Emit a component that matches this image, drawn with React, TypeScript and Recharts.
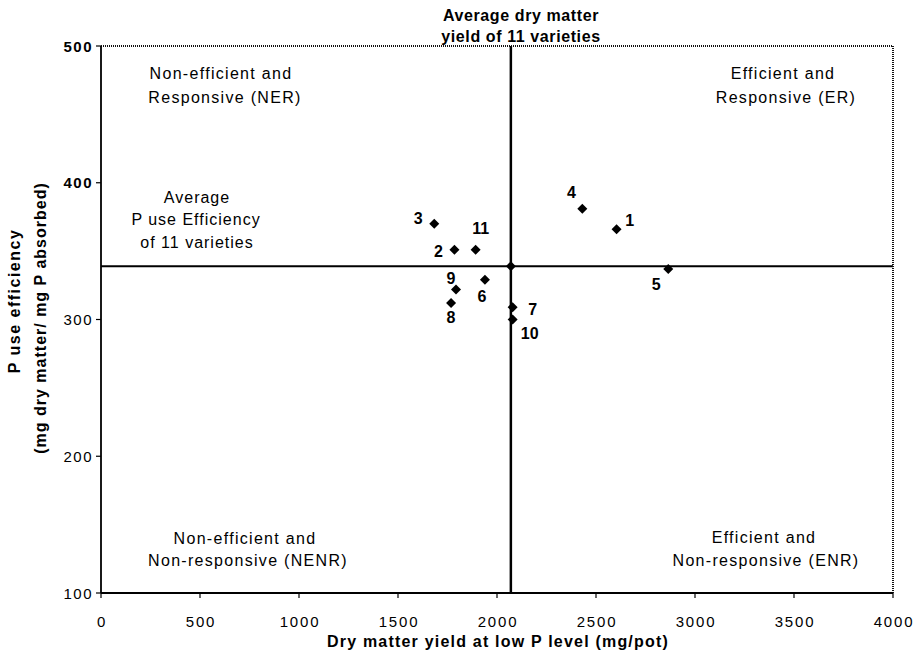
import React from 'react';
import { ScatterChart, Scatter, XAxis, YAxis, ReferenceLine, Customized } from 'recharts';

// ---- Data ----
const varieties = ['1', '2', '3', '4', '5', '6', '7', '8', '9', '10', '11'];
const dryMatterYield = [2604, 1785, 1683, 2431, 2865, 1939, 2079, 1768, 1793, 2079, 1892];
const pUseEfficiency = [366, 351, 370, 381, 337, 329, 309, 312, 322, 300, 351];
const averageYield = 2070;
const averageEfficiency = 339;
const xTicks = [0, 500, 1000, 1500, 2000, 2500, 3000, 3500, 4000];
const yTicks = [100, 200, 300, 400, 500];

const points = varieties.map((name, i) => ({ name, x: dryMatterYield[i], y: pUseEfficiency[i] }));
const averagePoint = [{ name: '', x: averageYield, y: averageEfficiency }];

// label offsets (pixels) relative to each marker
const labelOffsets: Record<string, [number, number]> = {
  '1': [13, -9],
  '2': [-16, 2],
  '3': [-16, -5],
  '4': [-11, -16],
  '5': [-12, 16],
  '6': [-3, 17],
  '7': [20, 2],
  '8': [0, 14],
  '9': [-5, -11],
  '10': [17, 14],
  '11': [5, -21],
};

const FONT = '"Liberation Sans", Arial, Helvetica, sans-serif';

const renderPoint = (props: any) => {
  const { cx, cy, payload } = props;
  if (cx == null || cy == null) return <g />;
  const s = 5;
  const off = labelOffsets[payload?.name] || [0, 0];
  return (
    <g>
      <polygon
        points={`${cx},${cy - s} ${cx + s},${cy} ${cx},${cy + s} ${cx - s},${cy}`}
        fill="#000"
      />
      {payload?.name ? (
        <text
          x={cx + off[0]}
          y={cy + off[1]}
          textAnchor="middle"
          dominantBaseline="central"
          fontFamily={FONT}
          fontWeight="bold"
          fontSize={16}
          fill="#000"
        >
          {payload.name}
        </text>
      ) : null}
    </g>
  );
};

const XTick = (props: any) => {
  const { x, y, payload } = props;
  return (
    <text
      x={x + 1}
      y={y + 21}
      textAnchor="middle"
      dominantBaseline="central"
      fontFamily={FONT}
      fontSize={15}
      letterSpacing={1.8}
      fill="#000"
    >
      {payload.value}
    </text>
  );
};

const YTick = (props: any) => {
  const { x, y, payload } = props;
  return (
    <text
      x={x - 1}
      y={y}
      textAnchor="end"
      dominantBaseline="central"
      fontFamily={FONT}
      fontSize={15}
      fontWeight={payload.value >= 400 ? 'bold' : 'normal'}
      letterSpacing={1.5}
      fill="#000"
    >
      {payload.value}
    </text>
  );
};

const Annotations = () => {
  const q = { fontFamily: FONT, fontSize: 16, fill: '#000', textAnchor: 'middle' as const, dominantBaseline: 'central' as const, letterSpacing: 1.3 };
  const b = { fontFamily: FONT, fontSize: 16, fontWeight: 'bold', fill: '#000', textAnchor: 'middle' as const, dominantBaseline: 'central' as const };
  return (
    <g>
      {/* top title */}
      <text x={521} y={15} letterSpacing={0.6} {...b}>Average dry matter</text>
      <text x={521} y={36} letterSpacing={0.6} {...b}>yield of 11 varieties</text>
      {/* quadrant labels */}
      <text x={221} y={73} {...q}>Non-efficient and</text>
      <text x={225} y={97} {...q}>Responsive (NER)</text>
      <text x={783} y={73} {...q}>Efficient and</text>
      <text x={786} y={97} {...q}>Responsive (ER)</text>
      <text x={245} y={538} {...q}>Non-efficient and</text>
      <text x={248} y={560} {...q}>Non-responsive (NENR)</text>
      <text x={764} y={537} {...q}>Efficient and</text>
      <text x={766} y={560} {...q}>Non-responsive (ENR)</text>
      {/* average efficiency note */}
      <text x={197} y={197} {...q} letterSpacing={1}>Average</text>
      <text x={196} y={219} {...q} letterSpacing={1}>P use Efficiency</text>
      <text x={197} y={242} {...q} letterSpacing={1}>of 11 varieties</text>
      {/* y axis title */}
      <text
        transform="translate(14, 301) rotate(-90)"
        x={0}
        y={0}
        {...b}
        letterSpacing={1.5}
      >
        P use efficiency
      </text>
      <text
        transform="translate(40, 318) rotate(-90)"
        x={0}
        y={0}
        {...b}
        letterSpacing={1}
      >
        (mg dry matter/ mg P absorbed)
      </text>
      {/* x axis title */}
      <text x={498} y={641} {...b} letterSpacing={1.2}>Dry matter yield at low P level (mg/pot)</text>
    </g>
  );
};

export default function App() {
  return (
    <div style={{ position: 'absolute', left: 0, top: 0, background: '#fff' }}>
      <ScatterChart
        width={919}
        height={652}
        margin={{ top: 46, right: 26, bottom: 0, left: 0 }}
      >
        <XAxis
          type="number"
          dataKey="x"
          domain={[0, 4000]}
          ticks={xTicks}
          interval={0}
          height={59}
          tickSize={5}
          axisLine={{ stroke: '#000', strokeWidth: 1.8 }}
          tickLine={{ stroke: '#000', strokeWidth: 1.2 }}
          tick={<XTick />}
          allowDataOverflow
        />
        <YAxis
          type="number"
          dataKey="y"
          domain={[100, 500]}
          ticks={yTicks}
          interval={0}
          width={101}
          tickSize={5}
          axisLine={{ stroke: '#000', strokeWidth: 1.8 }}
          tickLine={{ stroke: '#000', strokeWidth: 1.2 }}
          tick={<YTick />}
          allowDataOverflow
        />
        <ReferenceLine y={500} stroke="#111" strokeWidth={2} strokeDasharray="1 1" />
        <ReferenceLine x={4000} stroke="#111" strokeWidth={2} strokeDasharray="1 1" />
        <ReferenceLine y={averageEfficiency} stroke="#000" strokeWidth={2} />
        <ReferenceLine x={averageYield} stroke="#000" strokeWidth={2.5} />
        <Scatter data={points} shape={renderPoint} isAnimationActive={false} />
        <Scatter data={averagePoint} shape={renderPoint} isAnimationActive={false} />
        <Customized component={Annotations} />
      </ScatterChart>
    </div>
  );
}
